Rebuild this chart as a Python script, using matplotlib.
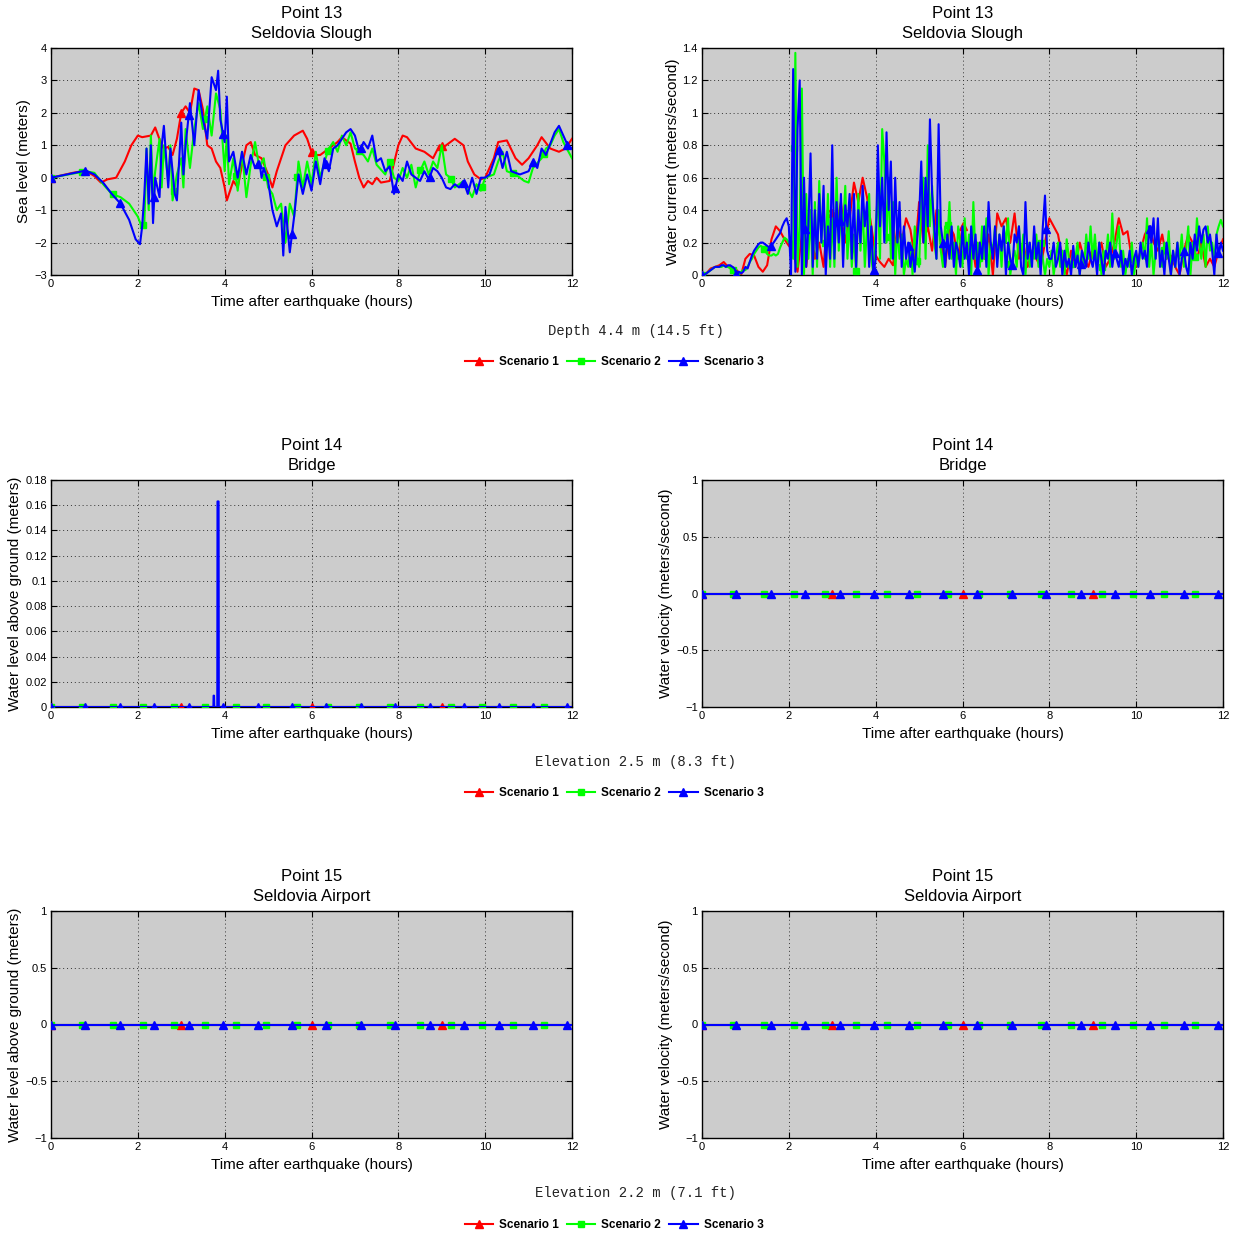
#!/usr/bin/env python3

import numpy as np
import matplotlib
matplotlib.use('Agg')
import matplotlib.pyplot as plt
from matplotlib.ticker import FuncFormatter

plt.rcParams['font.family'] = ['Liberation Sans', 'DejaVu Sans']
plt.rcParams['axes.unicode_minus'] = True

# ---- point 13, sea level (hours, meters) ----
sl1_t = [0, 0.5, 0.8, 1.0, 1.15, 1.3, 1.5, 1.7, 1.85, 2.0, 2.1, 2.3, 2.4, 2.55, 2.6, 2.7, 2.8, 2.9,
         3.0, 3.1, 3.2, 3.3, 3.4, 3.5, 3.6, 3.7, 3.8, 3.9, 4.0, 4.05, 4.2, 4.3, 4.4, 4.5, 4.6, 4.7,
         4.85, 5.0, 5.1, 5.2, 5.4, 5.6, 5.8, 5.9, 6.0, 6.1, 6.2, 6.4, 6.6, 6.7, 6.9, 7.0, 7.1, 7.2,
         7.3, 7.4, 7.5, 7.6, 7.8, 8.0, 8.1, 8.2, 8.4, 8.6, 8.8, 8.95, 9.05, 9.3, 9.5, 9.6, 9.75,
         9.9, 10.0, 10.2, 10.3, 10.5, 10.7, 10.85, 11.0, 11.2, 11.3, 11.5, 11.7, 11.85, 12.0]
sl1 = [0, 0.15, 0.22, 0.05, -0.15, -0.05, 0.0, 0.5, 1.0, 1.3, 1.25, 1.3, 1.55, 1.0, 0.9, 0.95, 0.7, 1.2,
       2.0, 2.2, 2.0, 2.75, 2.7, 2.1, 1.0, 0.9, 0.5, 0.3, -0.3, -0.7, -0.1, -0.3, 0.4, 1.0, 1.1, 0.7,
       0.6, 0.1, -0.3, 0.2, 1.0, 1.3, 1.45, 1.2, 0.8, 0.7, 0.7, 0.9, 1.1, 1.25, 1.05, 0.5, 0.0, -0.3,
       -0.1, -0.2, 0.0, -0.15, -0.1, 1.0, 1.3, 1.25, 0.9, 0.8, 0.6, 1.0, 0.95, 1.2, 1.0, 0.5, 0.1,
       -0.05, 0.0, 0.6, 1.1, 1.15, 0.6, 0.4, 0.6, 1.0, 1.25, 0.9, 0.8, 0.9, 1.2]

sl2_t = [0, 0.8, 1.0, 1.2, 1.4, 1.6, 1.8, 2.0, 2.1, 2.15, 2.2, 2.25, 2.3, 2.35, 2.4, 2.5, 2.55, 2.6,
         2.7, 2.75, 2.8, 2.9, 3.0, 3.05, 3.1, 3.2, 3.3, 3.4, 3.5, 3.6, 3.7, 3.8, 3.9, 4.0, 4.05, 4.1,
         4.2, 4.3, 4.4, 4.5, 4.6, 4.7, 4.8, 4.9, 5.0, 5.1, 5.2, 5.3, 5.4, 5.5, 5.6, 5.7, 5.8, 5.9,
         6.0, 6.1, 6.2, 6.3, 6.4, 6.5, 6.6, 6.7, 6.8, 6.9, 7.0, 7.2, 7.3, 7.4, 7.5, 7.7, 7.8, 7.9,
         8.0, 8.1, 8.2, 8.3, 8.4, 8.5, 8.6, 8.7, 8.8, 8.9, 9.0, 9.1, 9.2, 9.3, 9.4, 9.5, 9.7, 9.8,
         9.9, 10.0, 10.2, 10.3, 10.4, 10.5, 10.7, 10.9, 11.0, 11.1, 11.3, 11.4, 11.5, 11.6, 11.7,
         11.8, 12.0]
sl2 = [0, 0.2, 0.15, -0.2, -0.5, -0.6, -0.8, -1.2, -1.55, -1.4, 0.9, -1.0, 1.3, -0.5, 0.2, 1.2, -0.3, 1.0,
       -0.1, 1.0, -0.7, 0.1, 0.6, -0.3, 1.5, 0.3, 1.5, 2.3, 1.5, 2.2, 1.3, 2.6, 2.1, 0.2, 1.3, -0.2,
       0.6, -0.4, 0.8, -0.6, 0.4, 1.1, 0.3, 0.6, -0.3, -0.5, -1.0, -0.8, -2.0, -0.8, -1.2, 0.5, -0.3, 0.5,
       -0.2, 0.8, 0.0, 0.5, 0.9, 1.1, 0.8, 1.3, 1.0, 1.4, 0.9, 0.7, 0.5, 0.9, 0.4, 0.1, 0.5, 0.0,
       -0.1, 0.3, 0.0, 0.4, -0.3, 0.2, 0.5, 0.1, 0.5, 0.3, 1.0, 0.1, 0.0, -0.3, -0.2, -0.1, -0.6, -0.2,
       -0.4, 0.0, 0.1, 0.5, 0.8, 0.2, 0.1, -0.1, -0.15, 0.3, 0.6, 0.9, 1.0, 1.3, 1.5,
       1.1, 0.6]

sl3_t = [0, 0.8, 1.0, 1.2, 1.4, 1.6, 1.8, 1.95, 2.05, 2.1, 2.15, 2.2, 2.25, 2.3, 2.35, 2.4, 2.5, 2.55,
         2.6, 2.7, 2.75, 2.85, 2.9, 3.0, 3.05, 3.1, 3.2, 3.3, 3.4, 3.5, 3.6, 3.7, 3.8, 3.85, 3.9, 4.0,
         4.05, 4.1, 4.2, 4.3, 4.4, 4.5, 4.6, 4.7, 4.8, 4.85, 4.9, 5.0, 5.1, 5.2, 5.3, 5.35, 5.4, 5.5,
         5.6, 5.7, 5.8, 5.9, 6.0, 6.1, 6.2, 6.3, 6.4, 6.5, 6.6, 6.7, 6.8, 6.9, 7.0, 7.1, 7.2, 7.3,
         7.4, 7.5, 7.6, 7.7, 7.8, 7.9, 8.0, 8.1, 8.2, 8.3, 8.4, 8.5, 8.6, 8.7, 8.8, 8.9, 9.0, 9.1,
         9.2, 9.3, 9.4, 9.5, 9.6, 9.7, 9.8, 9.9, 10.0, 10.1, 10.2, 10.3, 10.4, 10.5, 10.6, 10.8,
         11.0, 11.1, 11.2, 11.3, 11.4, 11.6, 11.7, 11.8, 11.9, 12.0]
sl3 = [0, 0.22, 0.1, -0.15, -0.5, -0.8, -1.3, -1.9, -2.05, -1.5, -0.5, 0.9, -0.8, 1.0, -1.4, 0.0, -0.6, 1.0,
       1.6, -0.3, 0.9, -0.5, -0.7, 1.7, 0.1, 1.0, 2.3, 1.0, 2.7, 1.8, 1.2, 3.1, 2.7, 3.3, 1.8, 1.1,
       2.5, 0.5, 0.8, 0.0, 0.8, 0.1, 0.7, 0.3, 0.5, 0.0, 0.3, -0.1, -1.0, -1.5, -1.1, -2.4, -0.9, -2.3,
       -1.2, 0.1, -0.5, 0.1, -0.4, 0.5, -0.2, 0.6, 0.2, 0.9, 1.0, 1.2, 1.4, 1.5, 1.3, 0.8, 1.1, 0.9,
       1.3, 0.5, 0.6, 0.2, 0.35, -0.5, 0.1, -0.1, 0.5, 0.1, 0.0, -0.1, 0.2, -0.05, 0.3, 0.2, 0.0, -0.3,
       -0.35, -0.2, -0.3, -0.1, -0.5, 0.0, -0.5, 0.0, 0.0, 0.1, 0.5, 0.9, 0.3, 0.8, 0.2, 0.1,
       0.2, 0.5, 0.3, 0.9, 0.7, 1.4, 1.6, 1.3, 1.0, 0.9]

# ---- point 13, water current (m/s) ----
cur1_t = np.round(np.arange(0, 121) * 0.1, 2)
cur1 = [0, 0.01, 0.04, 0.05, 0.06, 0.08, 0.05, 0.05, 0.03, 0.0,
        0.1, 0.13, 0.12, 0.05, 0.02, 0.06, 0.22, 0.3, 0.27, 0.22,
        0.18, 0.15, 0.02, 0.25, 0.05, 0.3, 0.1, 0.2, 0.05, 0.4,
        0.38, 0.3, 0.45, 0.2, 0.35, 0.57, 0.45, 0.6, 0.48, 0.3,
        0.12, 0.08, 0.05, 0.1, 0.06, 0.3, 0.2, 0.35, 0.28, 0.1,
        0.45, 0.2, 0.3, 0.15, 0.4, 0.2, 0.05, 0.3, 0.25, 0.1,
        0.3, 0.15, 0.25, 0.05, 0.2, 0.1, 0.25, 0.0, 0.38, 0.3,
        0.35, 0.2, 0.38, 0.1, 0.2, 0.05, 0.15, 0.1, 0.05, 0.2,
        0.35, 0.3, 0.25, 0.1, 0.0, 0.15, 0.05, 0.2, 0.1, 0.05,
        0.15, 0.1, 0.2, 0.05, 0.1, 0.2, 0.35, 0.25, 0.27, 0.1,
        0.05, 0.15, 0.25, 0.3, 0.2, 0.15, 0.25, 0.1, 0.12, 0.05,
        0.0, 0.15, 0.25, 0.2, 0.1, 0.2, 0.05, 0.1, 0.05, 0.15,
        0.22]

cur23_t = np.round(np.arange(0, 241) * 0.05, 2)
cur2 = [0, 0, 0.01, 0.02, 0.03, 0.04, 0.05, 0.05, 0.05, 0.05, 0.06, 0.05, 0.05, 0.04, 0.04, 0.0, 0.0, 0.0, 0.02, 0.03,
        0.03, 0.05, 0.08, 0.1, 0.13, 0.15, 0.17, 0.18, 0.17, 0.15, 0.13, 0.12, 0.12, 0.13, 0.12, 0.13, 0.17, 0.2, 0.23, 0.22,
        0.2, 0.22, 0.1, 1.37, 0.05, 0.3, 1.15, 0.0, 0.5, 0.1, 0.4, 0.0, 0.45, 0.05, 0.58, 0.2, 0.45, 0.1, 0.5, 0.05,
        0.35, 0.05, 0.6, 0.15, 0.4, 0.3, 0.55, 0.1, 0.35, 0.05, 0.25, 0.0, 0.5, 0.15, 0.45, 0.05, 0.3, 0.5, 0.1, 0.0,
        0.3, 0.5, 0.1, 0.9, 0.7, 0.2, 0.6, 0.1, 0.45, 0.0, 0.3, 0.1, 0.25, 0.0, 0.1, 0.05, 0.2, 0.0, 0.3, 0.1,
        0.05, 0.45, 0.6, 0.1, 0.8, 0.3, 0.55, 0.2, 0.1, 0.4, 0.15, 0.05, 0.3, 0.2, 0.45, 0.1, 0.2, 0.0, 0.3, 0.2,
        0.05, 0.35, 0.1, 0.25, 0.0, 0.45, 0.1, 0.2, 0.05, 0.3, 0.1, 0.35, 0.0, 0.2, 0.15, 0.3, 0.1, 0.25, 0.05, 0.3,
        0.2, 0.35, 0.0, 0.1, 0.15, 0.05, 0.3, 0.1, 0.25, 0.0, 0.2, 0.05, 0.15, 0.1, 0.25, 0.05, 0.2, 0.1, 0.0, 0.1,
        0.05, 0.15, 0.0, 0.1, 0.2, 0.05, 0.15, 0.0, 0.22, 0.1, 0.05, 0.15, 0.1, 0.2, 0.0, 0.15, 0.05, 0.25, 0.1, 0.3,
        0.1, 0.25, 0.05, 0.2, 0.0, 0.15, 0.1, 0.25, 0.05, 0.38, 0.1, 0.2, 0.3, 0.05, 0.15, 0.0, 0.1, 0.05, 0.2, 0.0,
        0.1, 0.05, 0.15, 0.2, 0.1, 0.35, 0.05, 0.2, 0.0, 0.15, 0.25, 0.1, 0.05, 0.2, 0.1, 0.27, 0.0, 0.15, 0.05, 0.2,
        0.1, 0.25, 0.05, 0.15, 0.3, 0.0, 0.2, 0.1, 0.35, 0.2, 0.1, 0.25, 0.05, 0.3, 0.15, 0.2, 0.1, 0.25, 0.3, 0.34,
        0.3]
cur3 = [0, 0, 0.01, 0.02, 0.03, 0.04, 0.05, 0.05, 0.05, 0.06, 0.06, 0.05, 0.06, 0.06, 0.05, 0.04, 0.0, 0.02, 0.01, 0.02,
        0.05, 0.04, 0.08, 0.12, 0.15, 0.17, 0.19, 0.2, 0.2, 0.19, 0.18, 0.17, 0.18, 0.2, 0.22, 0.24, 0.26, 0.3, 0.33, 0.35,
        0.3, 0.0, 1.27, 0.02, 0.9, 1.2, 0.0, 0.6, 0.05, 0.3, 0.75, 0.05, 0.4, 0.1, 0.5, 0.2, 0.55, 0.0, 0.3, 0.1,
        0.8, 0.1, 0.45, 0.2, 0.5, 0.05, 0.43, 0.3, 0.5, 0.1, 0.5, 0.05, 0.4, 0.2, 0.55, 0.3, 0.45, 0.05, 0.3, 0.0,
        0.1, 0.8, 0.3, 0.6, 0.2, 0.88, 0.4, 0.7, 0.1, 0.6, 0.2, 0.45, 0.05, 0.3, 0.1, 0.2, 0.05, 0.15, 0.02, 0.2,
        0.35, 0.7, 0.2, 0.6, 0.3, 0.96, 0.5, 0.3, 0.1, 0.93, 0.3, 0.2, 0.05, 0.25, 0.1, 0.3, 0.05, 0.2, 0.15, 0.05,
        0.3, 0.1, 0.2, 0.0, 0.3, 0.1, 0.25, 0.0, 0.2, 0.1, 0.3, 0.05, 0.45, 0.2, 0.1, 0.3, 0.05, 0.25, 0.15, 0.3,
        0.0, 0.2, 0.1, 0.05, 0.25, 0.2, 0.3, 0.05, 0.0, 0.45, 0.1, 0.2, 0.05, 0.3, 0.1, 0.2, 0.0, 0.3, 0.49, 0.15,
        0.1, 0.1, 0.2, 0.05, 0.1, 0.2, 0.0, 0.15, 0.05, 0.1, 0.0, 0.18, 0.05, 0.12, 0.0, 0.15, 0.1, 0.05, 0.2, 0.1,
        0.05, 0.15, 0.0, 0.2, 0.1, 0.0, 0.15, 0.1, 0.2, 0.05, 0.15, 0.1, 0.05, 0.15, 0.0, 0.1, 0.05, 0.15, 0.0, 0.1,
        0.15, 0.05, 0.2, 0.1, 0.15, 0.05, 0.3, 0.2, 0.35, 0.1, 0.35, 0.05, 0.15, 0.0, 0.2, 0.1, 0.0, 0.15, 0.05, 0.2,
        0.0, 0.1, 0.15, 0.05, 0.0, 0.2, 0.1, 0.25, 0.15, 0.3, 0.2, 0.28, 0.3, 0.2, 0.25, 0.15, 0.0, 0.25, 0.12, 0.2,
        0.15]

# ---- point 14, water above ground (only scenario 3 floods briefly) ----
flat_t = [0, 12]
flat_v = [0, 0]
wl3_t = [0, 3.74, 3.745, 3.755, 3.76, 3.83, 3.835, 3.86, 3.865, 12]
wl3 = [0, 0, 0.009, 0.009, 0, 0, 0.163, 0.163, 0, 0]

scen_names = ['Scenario 1', 'Scenario 2', 'Scenario 3']
scen_colors = ['#ff0000', '#00ff00', '#0000ff']
scen_markers = ['^', 's', '^']
marker_step = [3.0, 0.709, 0.793]   # hours between markers

notes = ['Depth 4.4 m (14.5 ft)', 'Elevation 2.5 m (8.3 ft)', 'Elevation 2.2 m (7.1 ft)']

LW = 1.5


def fmt(v, pos):
    s = '%g' % v
    return s.replace('-', '\u2212')


def drawSeries(ax, t, y, i):
    t = np.asarray(t, dtype=float)
    y = np.asarray(y, dtype=float)
    c = scen_colors[i]
    ax.plot(t, y, color=c, lw=LW, zorder=3 + i)
    mt = np.arange(0, 11.95, marker_step[i])
    my = np.interp(mt, t, y)
    ms = 6 if scen_markers[i] == '^' else 4.5
    ax.plot(mt, my, ls='none', marker=scen_markers[i], ms=ms, color=c,
            mec=c, zorder=3 + i)


def styleAx(ax, title, ylabel, ylim, yticks):
    ax.set_facecolor('#cccccc')
    ax.set_xlim(0, 12)
    ax.set_ylim(*ylim)
    ax.set_xticks(range(0, 13, 2))
    ax.set_yticks(yticks)
    ax.xaxis.set_major_formatter(FuncFormatter(fmt))
    ax.yaxis.set_major_formatter(FuncFormatter(fmt))
    ax.tick_params(direction='in', top=True, right=True, labelsize=8, length=4,
                   width=0.8, pad=3)
    ax.grid(True, ls=(0, (1, 3)), color='#333333', lw=0.7)
    ax.set_axisbelow(True)
    for s in ax.spines.values():
        s.set_linewidth(1.0)
    ax.set_title(title, fontsize=12, pad=7, linespacing=1.45)
    ax.set_xlabel('Time after earthquake (hours)', fontsize=11, labelpad=4)
    ax.set_ylabel(ylabel, fontsize=11, labelpad=2)


fig = plt.figure(figsize=(12.37, 12.34), dpi=100)

W, H = 1237.0, 1234.0
lefts = [51 / W, 702 / W]
aw = 521 / W
ah = 227 / H
rows_bottom = [1 - 275 / H, 1 - 707 / H, 1 - 1138 / H]

# row 1
ax = fig.add_axes([lefts[0], rows_bottom[0], aw, ah])
for i, (t, y) in enumerate([(sl1_t, sl1), (sl2_t, sl2), (sl3_t, sl3)]):
    drawSeries(ax, t, y, i)
styleAx(ax, 'Point 13\nSeldovia Slough', 'Sea level (meters)', (-3, 4), range(-3, 5))

ax = fig.add_axes([lefts[1], rows_bottom[0], aw, ah])
for i, (t, y) in enumerate([(cur1_t, cur1), (cur23_t, cur2), (cur23_t, cur3)]):
    drawSeries(ax, t, y, i)
styleAx(ax, 'Point 13\nSeldovia Slough', 'Water current (meters/second)', (0, 1.4),
        np.round(np.arange(0, 1.41, 0.2), 1))

# row 2
ax = fig.add_axes([lefts[0], rows_bottom[1], aw, ah])
for i, (t, y) in enumerate([(flat_t, flat_v), (flat_t, flat_v), (wl3_t, wl3)]):
    drawSeries(ax, t, y, i)
styleAx(ax, 'Point 14\nBridge', 'Water level above ground (meters)', (0, 0.18),
        np.round(np.arange(0, 0.181, 0.02), 2))

ax = fig.add_axes([lefts[1], rows_bottom[1], aw, ah])
for i in range(3):
    drawSeries(ax, flat_t, flat_v, i)
styleAx(ax, 'Point 14\nBridge', 'Water velocity (meters/second)', (-1, 1),
        [-1, -0.5, 0, 0.5, 1])

# row 3
ax = fig.add_axes([lefts[0], rows_bottom[2], aw, ah])
for i in range(3):
    drawSeries(ax, flat_t, flat_v, i)
styleAx(ax, 'Point 15\nSeldovia Airport', 'Water level above ground (meters)', (-1, 1),
        [-1, -0.5, 0, 0.5, 1])

ax = fig.add_axes([lefts[1], rows_bottom[2], aw, ah])
for i in range(3):
    drawSeries(ax, flat_t, flat_v, i)
styleAx(ax, 'Point 15\nSeldovia Airport', 'Water velocity (meters/second)', (-1, 1),
        [-1, -0.5, 0, 0.5, 1])

# notes and legends under each row
note_y = [331, 762, 1193]
leg_y = [362, 793, 1225]
handles = []
for i in range(3):
    h, = plt.plot([], [], color=scen_colors[i], lw=LW, marker=scen_markers[i],
                  ms=6 if scen_markers[i] == '^' else 4.5)
    handles.append(h)

for k in range(3):
    fig.text(636 / W, 1 - note_y[k] / H, notes[k], ha='center', va='center',
             fontsize=10, family='Liberation Mono', color='#222222')
    fig.legend(handles, scen_names, loc='center', ncol=3, frameon=False,
               bbox_to_anchor=(614 / W, 1 - leg_y[k] / H),
               prop={'weight': 'bold', 'size': 8.5},
               handlelength=2.4, handletextpad=0.5, columnspacing=0.7)

fig.savefig('out.png', dpi=100)
